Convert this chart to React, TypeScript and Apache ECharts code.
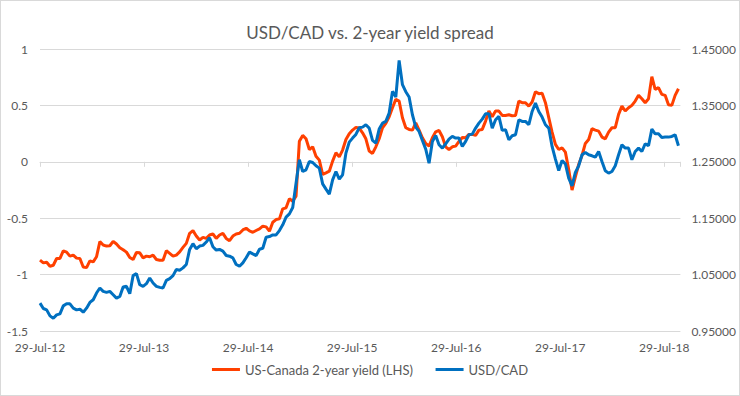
import React, { useEffect, useRef } from 'react';
import * as echarts from 'echarts';

const TITLE = 'USD/CAD vs. 2-year yield spread';
const SERIES_NAMES = ['US-Canada 2-year yield (LHS)', 'USD/CAD'];
const X_LABELS = ['29-Jul-12', '29-Jul-13', '29-Jul-14', '29-Jul-15', '29-Jul-16', '29-Jul-17', '29-Jul-18'];
// observations roughly every 11.7 days, starting 29-Jul-12 (x measured in years)
const STEP_YEARS = 1 / 31.29;
const X_MAX = 6.155;

const spreadValues = [
  -0.872, -0.896, -0.890, -0.926, -0.917, -0.857, -0.857, -0.789, -0.801, -0.836, -0.827, -0.854, -0.857, -0.932, -0.938, -0.878,
  -0.887, -0.842, -0.708, -0.738, -0.747, -0.744, -0.705, -0.729, -0.762, -0.780, -0.801, -0.848, -0.866, -0.804, -0.807, -0.851,
  -0.836, -0.842, -0.827, -0.866, -0.872, -0.872, -0.789, -0.812, -0.836, -0.827, -0.798, -0.759, -0.723, -0.634, -0.610, -0.658,
  -0.693, -0.670, -0.679, -0.649, -0.640, -0.679, -0.649, -0.634, -0.679, -0.699, -0.658, -0.640, -0.634, -0.604, -0.589, -0.613,
  -0.625, -0.609, -0.595, -0.571, -0.577, -0.615, -0.536, -0.512, -0.506, -0.417, -0.408, -0.328, -0.349, -0.305, 0.183, 0.234,
  0.204, 0.109, 0.133, 0.050, 0.015, -0.112, -0.098, -0.083, 0.006, 0.080, 0.044, 0.104, 0.198, 0.249, 0.281, 0.305,
  0.299, 0.257, 0.204, 0.095, 0.074, 0.133, 0.204, 0.302, 0.340, 0.399, 0.479, 0.553, 0.538, 0.391, 0.302, 0.287,
  0.281, 0.346, 0.281, 0.213, 0.163, 0.139, 0.213, 0.266, 0.278, 0.222, 0.133, 0.109, 0.133, 0.139, 0.180, 0.216,
  0.213, 0.243, 0.243, 0.234, 0.281, 0.287, 0.361, 0.450, 0.399, 0.450, 0.450, 0.411, 0.411, 0.417, 0.408, 0.411,
  0.538, 0.524, 0.524, 0.494, 0.530, 0.621, 0.604, 0.607, 0.524, 0.391, 0.263, 0.154, 0.109, 0.124, 0.086, -0.068,
  -0.251, -0.133, -0.024, 0.056, 0.163, 0.198, 0.293, 0.281, 0.272, 0.219, 0.204, 0.263, 0.302, 0.302, 0.420, 0.494,
  0.450, 0.479, 0.500, 0.538, 0.589, 0.559, 0.524, 0.559, 0.754, 0.642, 0.657, 0.598, 0.589, 0.506, 0.500, 0.589, 0.648,
];

const usdcadValues = [
  0.9994, 0.9899, 0.9875, 0.9768, 0.9726, 0.9786, 0.9804, 0.9946, 0.9982, 0.9982, 0.9905, 0.9875, 0.9887, 0.9833, 0.9905, 1.0006,
  1.0054, 1.0173, 1.0262, 1.0202, 1.0185, 1.0202, 1.0143, 1.0083, 1.0113, 1.0280, 1.0292, 1.0161, 1.0482, 1.0518, 1.0321, 1.0292,
  1.0339, 1.0440, 1.0351, 1.0292, 1.0274, 1.0262, 1.0399, 1.0429, 1.0482, 1.0589, 1.0577, 1.0619, 1.0679, 1.0946, 1.1048, 1.0958,
  1.1006, 1.1018, 1.1077, 1.1155, 1.0994, 1.0935, 1.0946, 1.0917, 1.0839, 1.0827, 1.0798, 1.0679, 1.0649, 1.0708, 1.0798, 1.0899,
  1.0867, 1.0837, 1.0950, 1.0967, 1.1163, 1.1175, 1.1204, 1.1204, 1.1281, 1.1382, 1.1518, 1.1577, 1.1689, 1.2121, 1.2536, 1.2328,
  1.2358, 1.2506, 1.2488, 1.2429, 1.2388, 1.2109, 1.2015, 1.1926, 1.2180, 1.2328, 1.2192, 1.2269, 1.2654, 1.2849, 1.2920, 1.2985,
  1.3104, 1.3115, 1.3157, 1.3098, 1.2879, 1.2831, 1.3080, 1.3186, 1.3216, 1.3364, 1.3749, 1.3648, 1.4299, 1.3867, 1.3743, 1.3648,
  1.3334, 1.3115, 1.3038, 1.2879, 1.2725, 1.2476, 1.2861, 1.2967, 1.2802, 1.2743, 1.2820, 1.2902, 1.2950, 1.2920, 1.2920, 1.2772,
  1.2861, 1.2979, 1.2991, 1.3098, 1.3186, 1.3257, 1.3352, 1.3352, 1.3098, 1.3246, 1.3305, 1.3057, 1.3068, 1.2891, 1.2962, 1.2979,
  1.3246, 1.3216, 1.3216, 1.3157, 1.3393, 1.3541, 1.3393, 1.3293, 1.3157, 1.3098, 1.2772, 1.2547, 1.2346, 1.2524, 1.2464, 1.2210,
  1.2074, 1.2311, 1.2429, 1.2624, 1.2666, 1.2624, 1.2607, 1.2583, 1.2683, 1.2506, 1.2340, 1.2299, 1.2328, 1.2429, 1.2624, 1.2802,
  1.2743, 1.2743, 1.2536, 1.2683, 1.2743, 1.2683, 1.2820, 1.2784, 1.3080, 1.2997, 1.2997, 1.2932, 1.2938, 1.2938, 1.2950, 1.2979, 1.2784,
];

const FONT = 'Lato, "Open Sans", sans-serif';
const TEXT_COLOR = '#595959';
const GRID_COLOR = '#d9d9d9';
const RED = '#FF4000';
const BLUE = '#0070C0';

export default function App() {
  const ref = useRef<HTMLDivElement>(null);
  useEffect(() => {
    document.body.style.margin = '0';
    if (!ref.current) return;
    const chart = echarts.init(ref.current, null, { renderer: 'svg' });
    const xLabel = (v: number) => {
      const r = Math.round(v);
      if (Math.abs(v - r) > 0.01) return '';
      return X_LABELS[r] ?? '';
    };
    chart.setOption({
      animation: false,
      title: {
        text: TITLE,
        left: 'center',
        top: 18,
        textStyle: { fontFamily: FONT, fontSize: 17, fontWeight: 'normal', color: TEXT_COLOR },
      },
      legend: {
        bottom: 14,
        left: 'center',
        icon: 'rect',
        itemWidth: 28,
        itemHeight: 3,
        itemGap: 22,
        textStyle: { fontFamily: FONT, fontSize: 13, color: TEXT_COLOR },
        data: SERIES_NAMES,
      },
      grid: { left: 39, right: 57, top: 48, bottom: 64 },
      xAxis: [
        {
          type: 'value',
          min: 0,
          max: X_MAX,
          interval: 1,
          position: 'bottom',
          axisLine: { show: false, onZero: false },
          axisTick: { show: false },
          splitLine: { show: false },
          axisLabel: { formatter: xLabel, color: TEXT_COLOR, fontFamily: FONT, fontSize: 12, margin: 10 },
        },
        {
          type: 'value',
          min: 0,
          max: X_MAX,
          interval: 1,
          position: 'bottom',
          axisLine: { show: true, onZero: true, onZeroAxisIndex: 0, lineStyle: { color: GRID_COLOR } },
          axisTick: { show: true, length: 5, lineStyle: { color: GRID_COLOR } },
          axisLabel: { show: false },
          splitLine: { show: false },
        },
      ],
      yAxis: [
        {
          type: 'value',
          min: -1.5,
          max: 1,
          interval: 0.5,
          axisLine: { show: false },
          axisTick: { show: false },
          splitLine: { lineStyle: { color: GRID_COLOR } },
          axisLabel: { color: TEXT_COLOR, fontFamily: FONT, fontSize: 12, margin: 12 },
        },
        {
          type: 'value',
          min: 0.95,
          max: 1.45,
          interval: 0.1,
          axisLine: { show: false },
          axisTick: { show: false },
          splitLine: { show: false },
          axisLabel: {
            color: TEXT_COLOR,
            fontFamily: FONT,
            fontSize: 12,
            margin: 11,
            formatter: (v: number) => v.toFixed(5),
          },
        },
      ],
      series: [
        {
          name: SERIES_NAMES[0],
          type: 'line',
          xAxisIndex: 0,
          yAxisIndex: 0,
          symbol: 'none',
          lineStyle: { width: 3, color: RED },
          itemStyle: { color: RED },
          data: spreadValues.map((v, i) => [i * STEP_YEARS, v]),
        },
        {
          name: SERIES_NAMES[1],
          type: 'line',
          xAxisIndex: 0,
          yAxisIndex: 1,
          symbol: 'none',
          lineStyle: { width: 3, color: BLUE },
          itemStyle: { color: BLUE },
          data: usdcadValues.map((v, i) => [i * STEP_YEARS, v]),
        },
      ],
    });
    return () => chart.dispose();
  }, []);
  return (
    <div style={{ width: 740, height: 396, boxSizing: 'border-box', border: `1px solid ${GRID_COLOR}`, background: '#fff' }}>
      <div ref={ref} style={{ width: 738, height: 394 }} />
    </div>
  );
}
